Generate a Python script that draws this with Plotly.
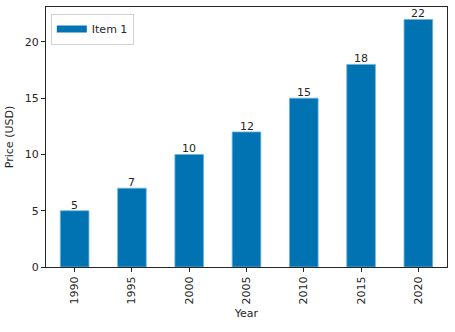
import plotly.graph_objects as go

years = ["1990", "1995", "2000", "2005", "2010", "2015", "2020"]
prices = [5, 7, 10, 12, 15, 18, 22]
series_name = "Item 1"

bar_color = "#0173b2"
text_color = "#262626"
font = dict(family="DejaVu Sans", size=11, color=text_color)

fig = go.Figure()
fig.add_trace(go.Bar(
    x=years,
    y=prices,
    name=series_name,
    width=0.5,
    marker=dict(color=bar_color, line=dict(color="#6fb3de", width=0.8)),
    showlegend=False,
))
# legend entry drawn as a wide flat patch
fig.add_trace(go.Scatter(
    x=[None], y=[None], mode="lines", name=series_name,
    line=dict(color=bar_color, width=7),
    showlegend=True,
))

# value labels sitting on top of each bar (category axis -> position index)
for idx, val in enumerate(prices):
    fig.add_annotation(
        x=idx, y=val, text=str(val), showarrow=False,
        yanchor="bottom", yshift=-3,
        font=dict(family="DejaVu Sans", size=11, color=text_color),
    )

fig.update_layout(
    width=455,
    height=332,
    margin=dict(l=46, r=8, t=7, b=65),
    paper_bgcolor="white",
    plot_bgcolor="white",
    font=font,
    legend=dict(
        x=0.012, y=0.975, xanchor="left", yanchor="top",
        bgcolor="rgba(255,255,255,0.8)",
        bordercolor="#d0d0d0", borderwidth=1,
        font=dict(family="DejaVu Sans", size=11, color=text_color),
        tracegroupgap=0,
    ),
)

fig.update_xaxes(
    type="category",
    categoryorder="array", categoryarray=years,
    range=[-0.5, 6.5],
    tickangle=-90,
    ticks="outside", ticklen=4, tickcolor=text_color,
    showline=True, linecolor=text_color, linewidth=1, mirror=True,
    showgrid=False,
    title=dict(text="Year", standoff=5, font=font),
)
fig.update_yaxes(
    range=[0, 23.1],
    tickvals=[0, 5, 10, 15, 20],
    ticks="outside", ticklen=4, tickcolor=text_color,
    showline=True, linecolor=text_color, linewidth=1, mirror=True,
    showgrid=False, zeroline=False,
    title=dict(text="Price (USD)", standoff=8, font=font),
)

fig.write_html("out.html")
